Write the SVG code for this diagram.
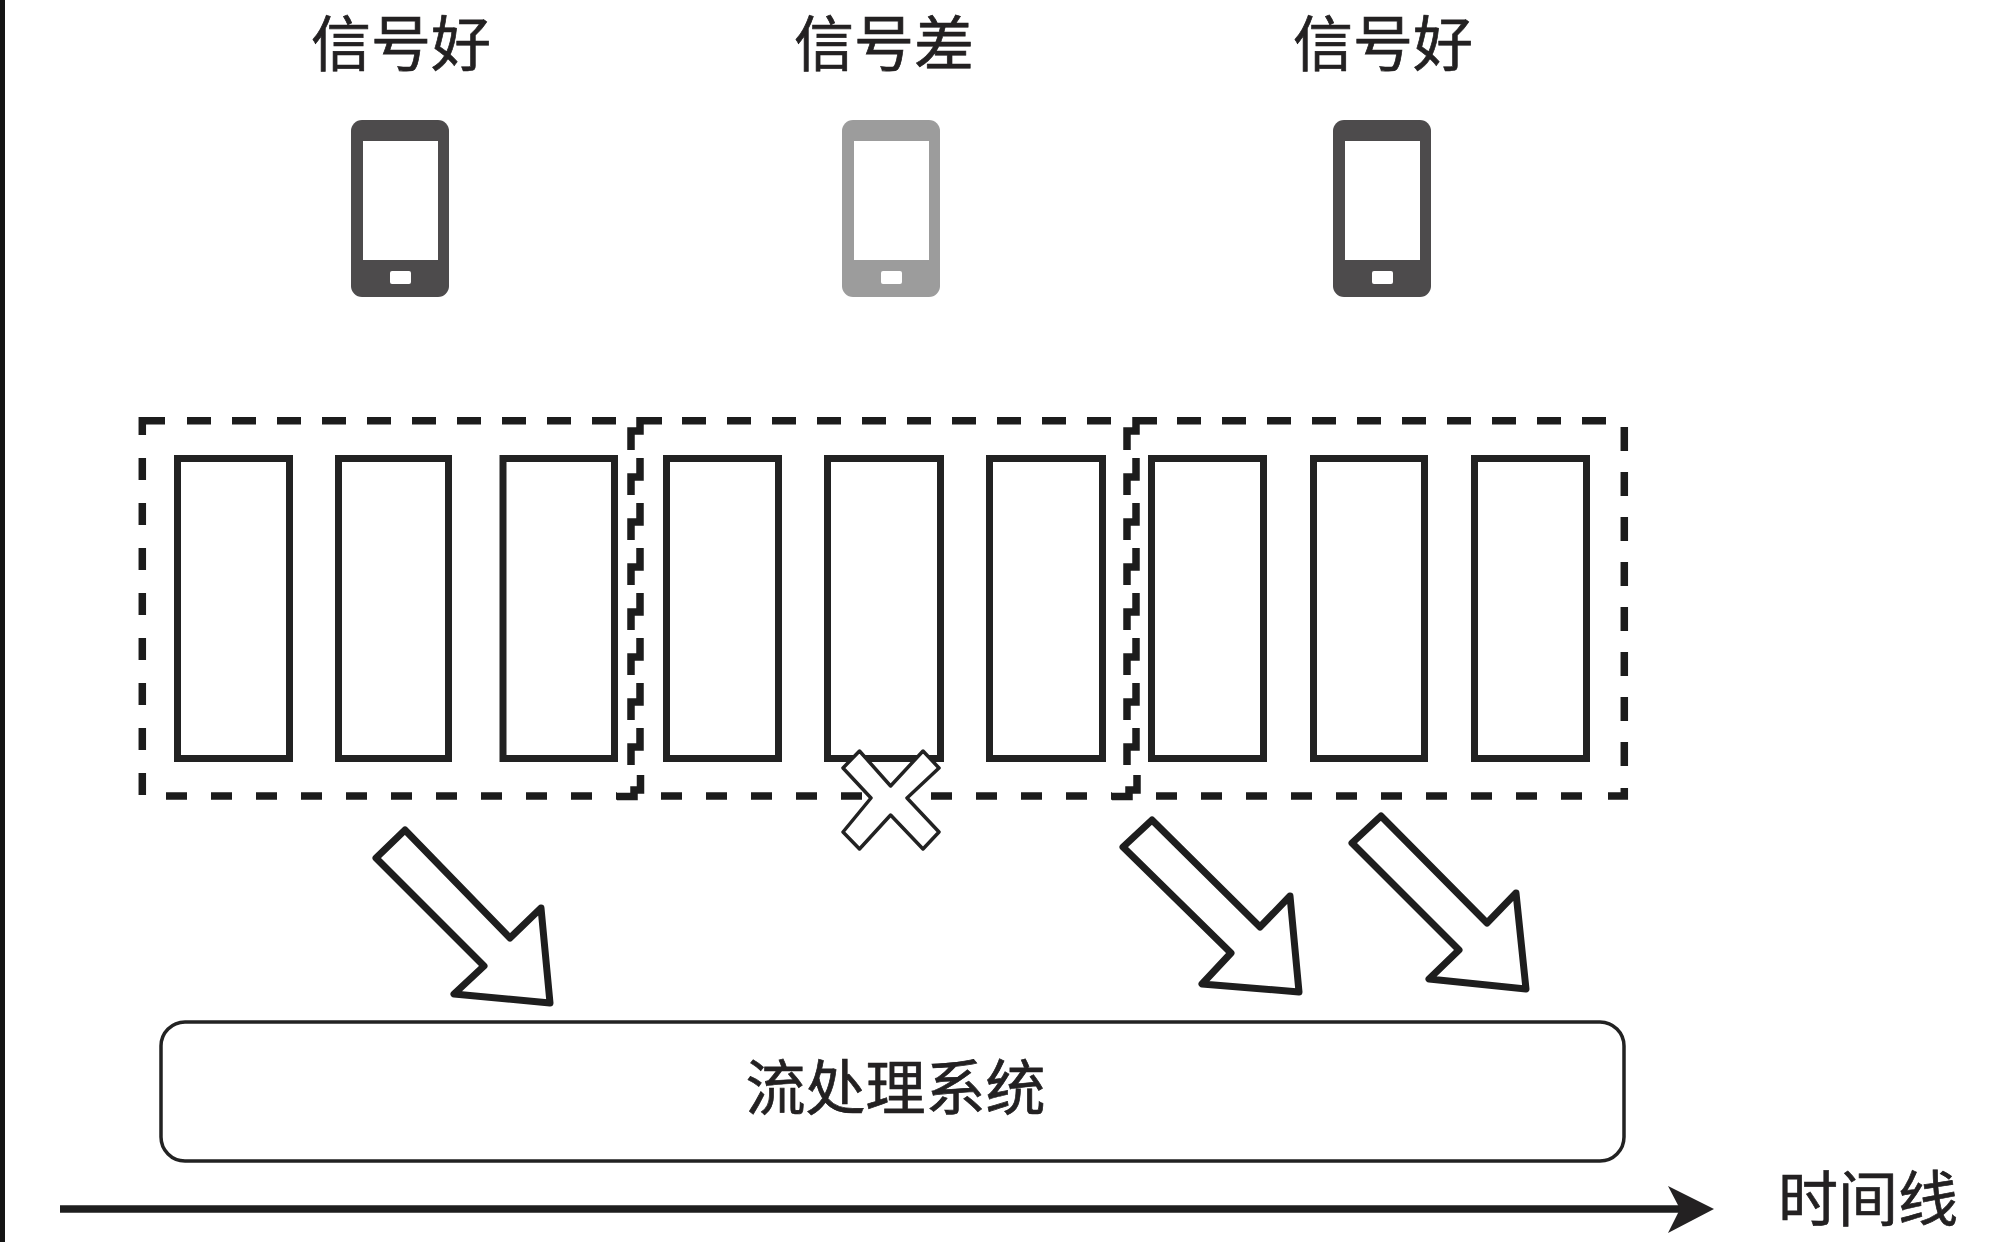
<svg xmlns="http://www.w3.org/2000/svg" width="1998" height="1242" viewBox="0 0 1998 1242">
  <style>
    text { font-family: "Liberation Sans", "Noto Sans CJK SC", sans-serif; font-size: 60px; fill: #232122; stroke: #232122; stroke-width: 0.7; text-anchor: middle; }
    .slot { fill: #fff; stroke: #222; stroke-width: 7; }
    .dash { fill: none; stroke: #1c1c1c; stroke-width: 7.500; }
    .flow { fill: #fff; stroke: #1e1e1e; stroke-width: 7; stroke-linejoin: round; }
    .dark { fill: #4d4b4c; }
    .faded { fill: #9c9c9c; }
    .glass { fill: #fff; }
  </style>
  <defs>
    <g id="phone">
      <rect x="0" y="0" width="98" height="177" rx="11"/>
      <rect class="glass" x="12" y="21" width="75" height="119"/>
      <rect class="glass" x="39" y="151" width="21" height="13" rx="2"/>
    </g>
    <path id="jog" class="dash" d="M0 0V19H-9V37"/>
  </defs>

  <rect width="1998" height="1242" fill="#fff"/>
  <rect width="5" height="1242" fill="#141414"/>

  <g id="phone-good-1">
    <text x="401" y="66">信号好</text>
    <use href="#phone" class="dark" x="351" y="120"/>
  </g>
  <g id="phone-poor">
    <text x="884" y="66">信号差</text>
    <use href="#phone" class="faded" x="842" y="120"/>
  </g>
  <g id="phone-good-2">
    <text x="1383" y="66">信号好</text>
    <use href="#phone" class="dark" x="1333" y="120"/>
  </g>

  <g id="events">
    <rect class="slot" x="177.500" y="458.500" width="112" height="300"/>
    <rect class="slot" x="338.500" y="458.500" width="110" height="300"/>
    <rect class="slot" x="503" y="458.500" width="111.500" height="300"/>
    <rect class="slot" x="666.500" y="458.500" width="112" height="300"/>
    <rect class="slot" x="827.500" y="458.500" width="113" height="300"/>
    <rect class="slot" x="989.500" y="458.500" width="113" height="300"/>
    <rect class="slot" x="1151.500" y="458.500" width="112" height="300"/>
    <rect class="slot" x="1313.500" y="458.500" width="111" height="300"/>
    <rect class="slot" x="1474.500" y="458.500" width="112" height="300"/>
  </g>

  <g id="windows">
    <!-- outer frame: corner, top run, bottom run, both sides -->
    <path class="dash" d="M165 420.700H142.300V435"/>
    <path class="dash" stroke-dasharray="24 21" d="M187 420.700H616"/>
    <path class="dash" stroke-dasharray="24 21" d="M682 420.700H1112"/>
    <path class="dash" stroke-dasharray="24 21" d="M1177 420.700H1608"/>
    <path class="dash" stroke-dasharray="22 23" d="M142.300 458V797"/>
    <path class="dash" stroke-dasharray="21 24" d="M166 796H617"/>
    <path class="dash" stroke-dasharray="21 24" d="M661 796H1112"/>
    <path class="dash" stroke-dasharray="21 24" d="M1156 796H1590"/>
    <path class="dash" d="M1608 796H1624.300V788"/>
    <path class="dash" stroke-dasharray="24 21" d="M1624.300 427V768"/>

    <!-- first window boundary -->
    <path class="dash" d="M662 420.700H640V431H631V450"/>
    <use href="#jog" x="640" y="458"/>
    <use href="#jog" x="640" y="503"/>
    <use href="#jog" x="640" y="548"/>
    <use href="#jog" x="640" y="593"/>
    <use href="#jog" x="640" y="638"/>
    <use href="#jog" x="640" y="683"/>
    <use href="#jog" x="640" y="728"/>
    <path class="dash" d="M617 796.500H634V790H640.500V775"/>

    <!-- second window boundary -->
    <path class="dash" d="M1157 420.700H1136V431H1127V450"/>
    <use href="#jog" x="1136" y="458"/>
    <use href="#jog" x="1136" y="503"/>
    <use href="#jog" x="1136" y="548"/>
    <use href="#jog" x="1136" y="593"/>
    <use href="#jog" x="1136" y="638"/>
    <use href="#jog" x="1136" y="683"/>
    <use href="#jog" x="1136" y="728"/>
    <path class="dash" d="M1112 796.500H1129V790H1137V775"/>
  </g>

  <g id="dropped">
    <polygon fill="#fff" stroke="#222" stroke-width="3.500" stroke-linejoin="round" points="859.500,751 843,768 871,798 843,832 859.500,849 890.600,815 923,849 939,832 907,798 939,768 923,751 890.600,786"/>
  </g>

  <g id="stream-processor">
    <rect x="161" y="1022" width="1463" height="139" rx="24" fill="#fff" stroke="#222" stroke-width="3.500"/>
    <text x="895.500" y="1110">流处理系统</text>
  </g>

  <g id="timeline-label">
    <text x="1868" y="1221">时间线</text>
  </g>

  <g id="connectors">
    <polygon class="flow" points="405,830 376,858 484,966 454,994 550,1003 541,908 510,938"/>
    <polygon class="flow" points="1152,820 1123,847 1231,953 1202,984 1299,992 1290,896 1260,927"/>
    <polygon class="flow" points="1381,816 1352,843 1459,950 1429,979 1526,989 1516,893 1487,923"/>
    <path d="M60 1209H1680" stroke="#1e1e1e" stroke-width="7.500" fill="none"/>
    <polygon fill="#232122" points="1714,1209 1668,1186 1680,1209 1668,1233"/>
  </g>
</svg>
